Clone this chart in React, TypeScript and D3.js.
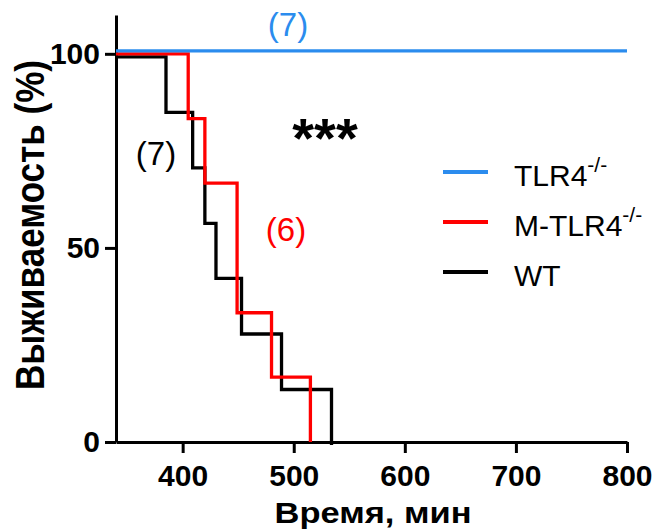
import { useEffect, useRef } from 'react';
import * as d3 from 'd3';

// time (min) and survival (%) for each group
const tlr4Times = [340, 800];
const tlr4Surv = [100, 100];

const mTlr4Times = [340, 405, 420, 449, 480, 515];
const mTlr4Surv = [100, 83.3, 66.7, 33.3, 16.7, 0];

const wtTimes = [340, 385, 409, 420, 430, 453, 489, 534];
const wtSurv = [100, 85.7, 71.4, 57.1, 42.9, 28.6, 14.3, 0];

const xTicks = [400, 500, 600, 700, 800];
const yTicks = [0, 50, 100];

const FONT = 'Liberation Sans, Arial, sans-serif';

const groups = [
    { name: 'TLR4', sup: '-/-', color: '#2b8cee', times: tlr4Times, surv: tlr4Surv, shift: -3 },
    { name: 'M-TLR4', sup: '-/-', color: '#ff0000', times: mTlr4Times, surv: mTlr4Surv, shift: 0 },
    { name: 'WT', sup: '', color: '#000000', times: wtTimes, surv: wtSurv, shift: 3 },
];

const App = () => {
    const svgRef = useRef<SVGSVGElement | null>(null);

    useEffect(() => {
        if (!svgRef.current) return;
        const svg = d3.select(svgRef.current);
        svg.selectAll('*').remove();

        const x = d3.scaleLinear().domain([340, 800]).range([116, 627]);
        const y = d3.scaleLinear().domain([0, 110]).range([442, 15]);

        // axes
        const yAxis = svg
            .append('g')
            .attr('transform', `translate(${x(340)},0)`)
            .call(d3.axisLeft(y).tickValues(yTicks).tickSize(11).tickSizeOuter(0).tickPadding(5));
        const xAxis = svg
            .append('g')
            .attr('transform', `translate(0,${y(0)})`)
            .call(d3.axisBottom(x).tickValues(xTicks).tickSize(11).tickSizeOuter(0).tickPadding(12));

        [yAxis, xAxis].forEach((a) => {
            a.select('.domain').attr('stroke', '#000').attr('stroke-width', 3);
            a.selectAll('.tick line').attr('stroke', '#000').attr('stroke-width', 3);
            a.selectAll('.tick text')
                .attr('fill', '#000')
                .style('font-family', FONT)
                .style('font-size', '30px')
                .style('font-weight', 'bold');
        });

        // survival curves
        const line = d3
            .line<[number, number]>()
            .x((d) => x(d[0]))
            .y((d) => y(d[1]))
            .curve(d3.curveStepAfter);

        [...groups].reverse().forEach((g) => {
            const pts = g.times.map((t, i) => [t, g.surv[i]] as [number, number]);
            svg.append('path')
                .datum(pts)
                .attr('fill', 'none')
                .attr('stroke', g.color)
                .attr('stroke-width', 3.3)
                .attr('transform', `translate(0,${g.shift})`)
                .attr('d', line);
        });

        // legend
        const legend = svg.append('g');
        groups.forEach((g, i) => {
            const ly = 172 + i * 50;
            legend.append('line')
                .attr('x1', 443)
                .attr('x2', 488)
                .attr('y1', ly)
                .attr('y2', ly)
                .attr('stroke', g.color)
                .attr('stroke-width', 4);
            const t = legend
                .append('text')
                .attr('x', 514)
                .attr('y', ly + 14)
                .style('font-family', FONT)
                .style('font-size', '30px')
                .attr('fill', '#000')
                .text(g.name);
            if (g.sup) {
                t.append('tspan').attr('dy', -14).style('font-size', '21px').text(g.sup);
            }
        });

        // annotations
        const note = (tx: number, ty: number, txt: string, color: string, size: number) =>
            svg.append('text')
                .attr('x', tx)
                .attr('y', ty)
                .attr('text-anchor', 'middle')
                .style('font-family', FONT)
                .style('font-size', `${size}px`)
                .attr('fill', color)
                .text(txt);
        note(288, 36, '(7)', '#2b8cee', 33);
        note(156, 165, '(7)', '#000', 33);
        note(286, 241, '(6)', '#ff0000', 33);
        note(325, 157, '***', '#000', 56).style('font-weight', 'bold');

        // axis titles
        svg.append('text')
            .attr('x', 373)
            .attr('y', 523)
            .attr('text-anchor', 'middle')
            .attr('textLength', 197)
            .attr('lengthAdjust', 'spacingAndGlyphs')
            .style('font-family', FONT)
            .style('font-size', '30px')
            .style('font-weight', 'bold')
            .text('Время, мин');
        svg.append('text')
            .attr('transform', 'translate(44,225) rotate(-90)')
            .attr('x', -165)
            .attr('textLength', 330)
            .attr('lengthAdjust', 'spacingAndGlyphs')
            .style('font-family', FONT)
            .style('font-size', '40px')
            .style('font-weight', 'bold')
            .text('Выживаемость (%)');
    }, []);

    return (
        <svg
            ref={svgRef}
            width={654}
            height={530}
            style={{ position: 'absolute', left: 0, top: 0, background: '#fff' }}
        ></svg>
    );
};

export default App;
